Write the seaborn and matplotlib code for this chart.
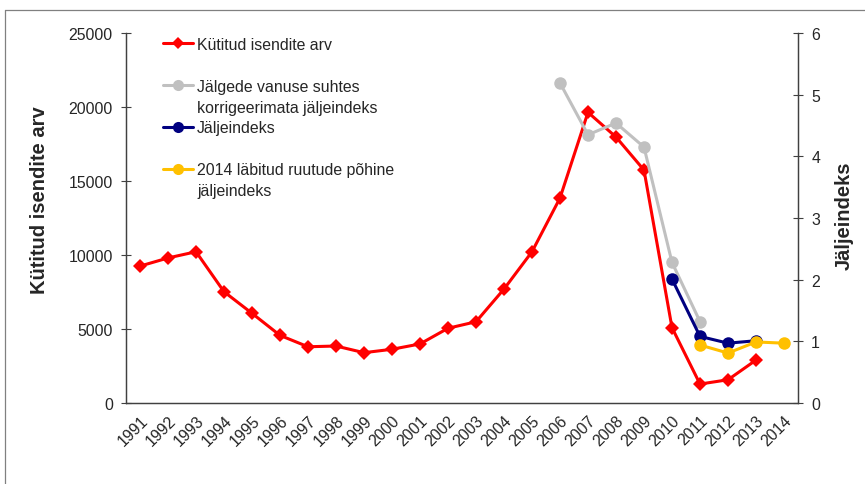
import matplotlib.pyplot as plt
from matplotlib.lines import Line2D
import numpy as np
import seaborn as sns

# data
years = list(range(1991, 2015))
kutitud_years = list(range(1991, 2014))
kutitud = [9250, 9800, 10220, 7520, 6060, 4570, 3800, 3850, 3400, 3630, 3990,
           5050, 5490, 7700, 10220, 13850, 19640, 17970, 15740, 5090, 1280, 1570, 2900]
korrig_years = [2006, 2007, 2008, 2009, 2010, 2011]
korrig = [5.19, 4.35, 4.54, 4.15, 2.28, 1.32]
indeks_years = [2010, 2011, 2012, 2013]
indeks = [2.01, 1.08, 0.97, 1.01]
ruut_years = [2011, 2012, 2013, 2014]
ruut = [0.94, 0.81, 0.99, 0.97]

labels = ["Kütitud isendite arv",
          "Jälgede vanuse suhtes", "korrigeerimata jäljeindeks",
          "Jäljeindeks",
          "2014 läbitud ruutude põhine", "jäljeindeks"]

RED, GRAY, NAVY, YEL = "#FF0000", "#C0C0C0", "#000080", "#FFC000"
SPINE = "#404040"

sns.set_style("white")
plt.rcParams["font.family"] = ["Liberation Sans", "DejaVu Sans"]

fig = plt.figure(figsize=(8.65, 4.85), dpi=100)
ax = fig.add_axes([126 / 865, 1 - 404 / 485, 672 / 865, 370 / 485])
ax2 = ax.twinx()

sns.lineplot(x=kutitud_years, y=kutitud, ax=ax, color=RED, lw=2.2, marker="D",
             markersize=7, markeredgecolor=RED, markeredgewidth=0)
sns.lineplot(x=korrig_years, y=korrig, ax=ax2, color=GRAY, lw=2.2, marker="o",
             markersize=9, markeredgecolor=GRAY, markeredgewidth=0)
sns.lineplot(x=indeks_years, y=indeks, ax=ax2, color=NAVY, lw=2.2, marker="o",
             markersize=9, markeredgecolor=NAVY, markeredgewidth=0)
sns.lineplot(x=ruut_years, y=ruut, ax=ax2, color=YEL, lw=2.2, marker="o",
             markersize=9, markeredgecolor=YEL, markeredgewidth=0)

ax.set_xlim(1990.5, 2014.5)
ax.set_ylim(0, 25000)
ax2.set_ylim(0, 6)

# tick marks between categories, labels at category centres
ax.set_xticks(np.arange(1990.5, 2015, 1))
ax.tick_params(axis="x", which="major", direction="inout", length=7,
               color=SPINE, labelbottom=False)
ax.set_xticks(years, minor=True)
ax.set_xticklabels([str(y) for y in years], minor=True, rotation=45,
                   ha="right", va="top", rotation_mode="anchor", fontsize=11.4)
ax.tick_params(axis="x", which="minor", length=0, pad=7)

ax.set_yticks(range(0, 25001, 5000))
ax.tick_params(axis="y", direction="inout", length=7, color=SPINE, pad=6,
               labelsize=11.4, left=True)
ax2.set_yticks(range(0, 7))
ax2.tick_params(axis="y", direction="inout", length=7, color=SPINE, pad=6,
                labelsize=11.4, right=True)

for a in (ax, ax2):
    a.spines["top"].set_visible(False)
    for s in ("left", "right", "bottom"):
        a.spines[s].set_color(SPINE)
        a.spines[s].set_linewidth(0.9)
    a.grid(False)

ax.set_xlabel("")
ax.set_ylabel("Kütitud isendite arv", fontsize=14.5, fontweight="bold")
ax.yaxis.set_label_coords(-0.115, 0.55)
ax2.set_ylabel("Jäljeindeks", fontsize=14.5, fontweight="bold")
ax2.yaxis.set_label_coords(1.054, 0.508)

handles = [
    Line2D([], [], color=RED, lw=2.2, marker="D", ms=6, mew=0),
    Line2D([], [], ls="none"),
    Line2D([], [], color=GRAY, lw=2.2, marker="o", ms=8, mew=0),
    Line2D([], [], ls="none"),
    Line2D([], [], color=NAVY, lw=2.2, marker="o", ms=8, mew=0),
    Line2D([], [], ls="none"),
    Line2D([], [], color=YEL, lw=2.2, marker="o", ms=8, mew=0),
    Line2D([], [], ls="none"),
]
leg_labels = [labels[0], " ", labels[1], labels[2], labels[3], " ", labels[4], labels[5]]
ax2.legend(handles=handles, labels=leg_labels, loc="upper left",
           bbox_to_anchor=(37 / 672, (404 - 38) / 370), frameon=False,
           borderpad=0, borderaxespad=0, handlelength=1.9, handletextpad=0.25,
           labelspacing=0.37, fontsize=11.4)

# outer chart frame (top and left edges visible in the reference)
fig.add_artist(Line2D([5 / 865, 1], [1 - 11 / 485, 1 - 11 / 485],
                      transform=fig.transFigure, color="#808080", lw=0.9))
fig.add_artist(Line2D([5 / 865, 5 / 865], [0, 1 - 11 / 485],
                      transform=fig.transFigure, color="#808080", lw=0.9))

fig.savefig("out.png", dpi=100)
